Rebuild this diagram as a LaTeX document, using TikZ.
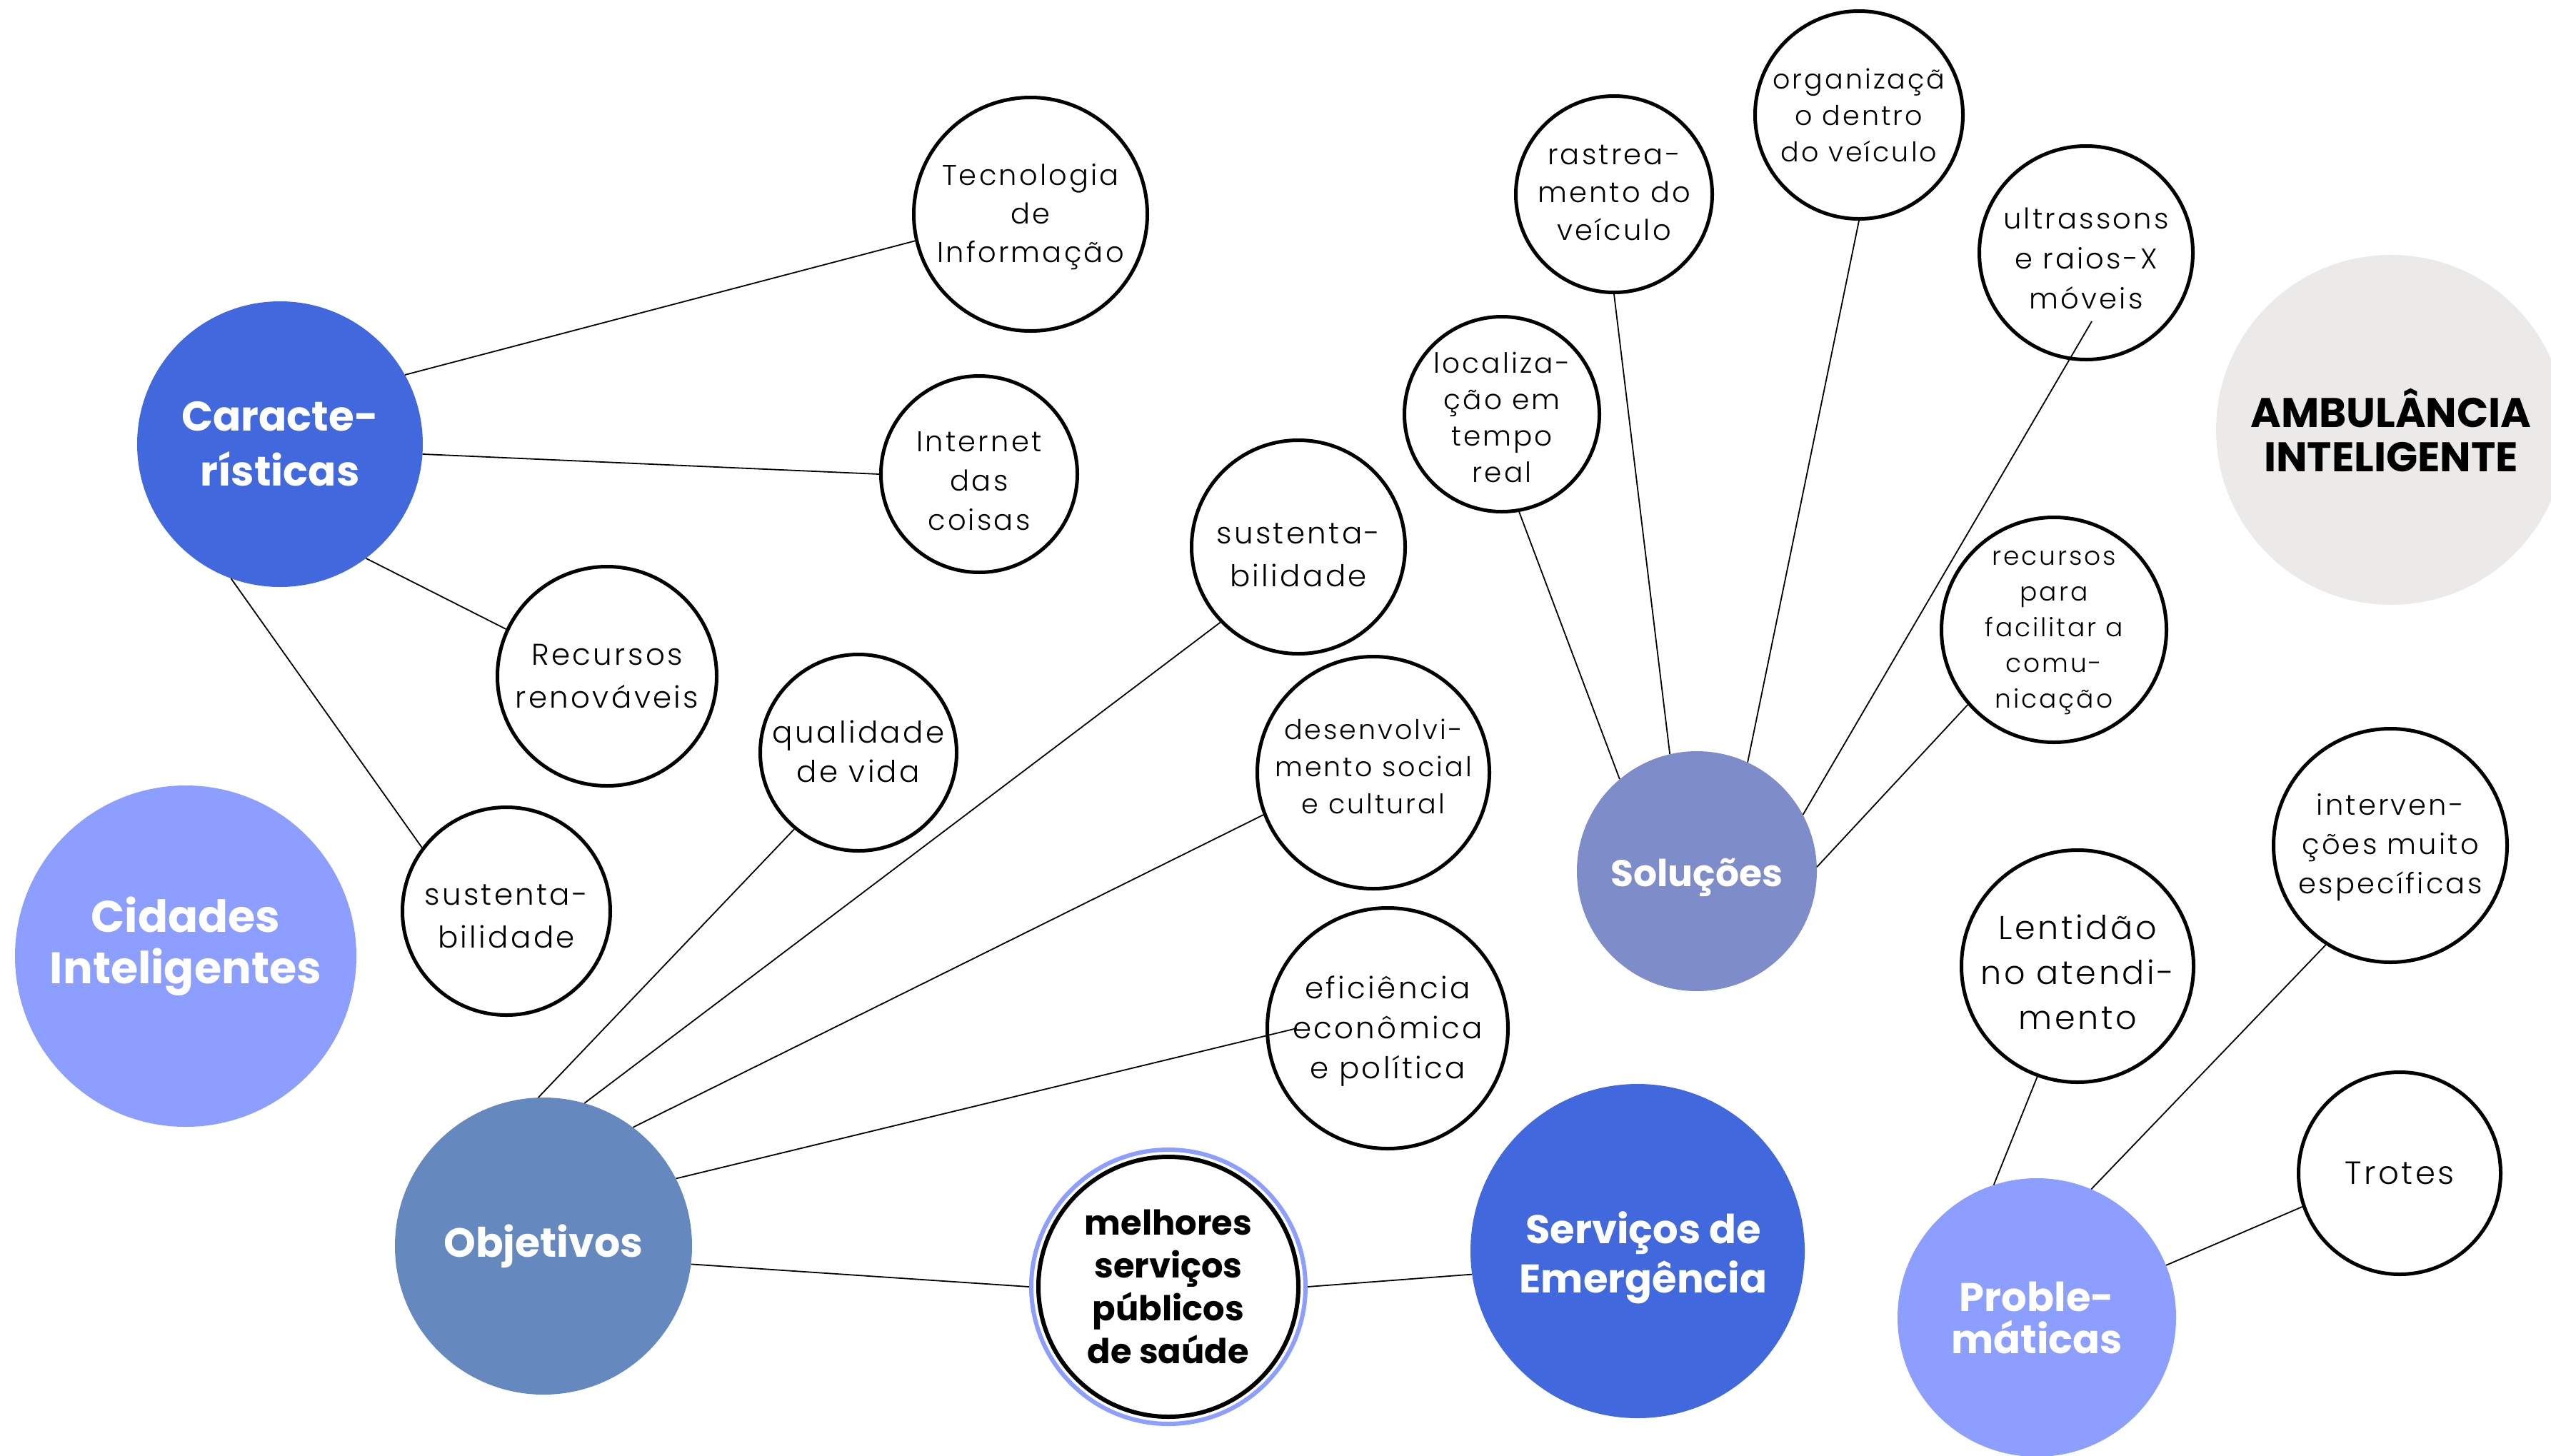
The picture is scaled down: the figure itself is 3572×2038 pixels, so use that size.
\documentclass[tikz,border=0pt]{standalone}
\usepackage{fontspec}
\newfontfamily\bodyf{Poppins}[UprightFont=* Light, LetterSpace=8]
\newfontfamily\headf{Poppins}
\newcommand\bodysz[2]{\bodyf\fontsize{#1}{#2}\selectfont}
\newcommand\headsz[2]{\headf\bfseries\fontsize{#1}{#2}\selectfont}
\definecolor{cblue}{HTML}{4168DC}
\definecolor{clight}{HTML}{8C9EFF}
\definecolor{cobj}{HTML}{6588BF}
\definecolor{csol}{HTML}{7E8CC9}
\definecolor{cgray}{HTML}{EBEAE9}
\tikzset{
  leaf/.style={circle, draw=black, line width=5pt, fill=white, inner sep=0pt},
  hub/.style={circle, inner sep=0pt},
  txt/.style={align=center, inner sep=0pt, text=black},
  wtxt/.style={align=center, inner sep=0pt, text=white},
  link/.style={draw=black, line width=1.8pt}
}
\begin{document}
\begin{tikzpicture}[x=1pt,y=-1pt]
\useasboundingbox (0,0) rectangle (3572,2038);
\clip (0,0) rectangle (3572,2038);
% hubs
\node[hub, fill=cblue, minimum size=400pt] (cara) at (392,622) {};
\node[hub, fill=clight, minimum size=478pt] (cid) at (260,1339) {};
\node[hub, fill=cobj, minimum size=416pt] (obj) at (761,1745) {};
\node[hub, fill=cblue, minimum size=468pt] (serv) at (2293,1752) {};
\node[hub, fill=csol, minimum size=336pt] (sol) at (2376,1220) {};
\node[hub, fill=clight, minimum size=390pt] (prob) at (2852,1845) {};
\node[hub, fill=cgray, minimum size=490pt] (amb) at (3348,602) {};
% leaves
\node[leaf, minimum size=327pt] (tec) at (1443,300) {};
\node[leaf, minimum size=275pt] (iot) at (1371,664) {};
\node[leaf, minimum size=307pt] (rec) at (850,947) {};
\node[leaf, minimum size=291pt] (sus1) at (709,1276) {};
\node[leaf, minimum size=275pt] (qual) at (1202,1054) {};
\node[leaf, minimum size=299pt] (sus2) at (1818,766) {};
\node[leaf, minimum size=325pt] (des) at (1923,1082) {};
\node[leaf, minimum size=337pt] (efi) at (1943,1440) {};
\node[circle, draw=clight, line width=6pt, fill=white, inner sep=0pt, minimum size=384pt] (melo) at (1636,1802) {};
\node[leaf, line width=6pt, minimum size=364pt] (mel) at (1636,1802) {};
\node[leaf, minimum size=273pt] (loc) at (2103,580) {};
\node[leaf, minimum size=275pt] (ras) at (2260,272) {};
\node[leaf, minimum size=291pt] (org) at (2603,161) {};
\node[leaf, minimum size=299pt] (ult) at (2921,354) {};
\node[leaf, minimum size=315pt] (rpf) at (2876,882) {};
\node[leaf, minimum size=325pt] (lent) at (2909,1353) {};
\node[leaf, minimum size=327pt] (inter) at (3347,1184) {};
\node[leaf, minimum size=283pt] (tro) at (3360,1643) {};
% connectors
\draw[link] (cara.29) -- (tec.193);
\draw[link] (cara.-4) -- (iot.180);
\draw[link] (cara.-53.5) -- (rec.155.6);
\draw[link] (cara.250) -- (sus1.143);
\draw[link] (obj.92.5) -- (qual.230);
\draw[link] (obj.74) -- (sus2.224.5);
\draw[link] (obj.53) -- (des.201);
\draw[link] (obj.27) -- ([xshift=44pt]efi.west);
\draw[link] (obj.-7.4) -- (melo.180);
\draw[link] (melo.0) -- (serv.188);
\draw[link] (sol.130) -- (loc.280);
\draw[link] (sol.103) -- (ras.270);
\draw[link] (sol.65) -- (org.270);
\draw[link] (sol.28) -- ([xshift=8pt,yshift=56pt]ult.south);
\draw[link] (sol.2.4) -- (rpf.221);
\draw[link] (prob.108.7) -- (lent.250.5);
\draw[link] (prob.67.6) -- (inter.237);
\draw[link] (prob.22.5) -- (tro.199);
% hub texts
\node[wtxt, font=\headsz{58}{77}] (carat) at (cara.center) {Caracte-\\rísticas};
\node[wtxt, font=\headsz{62}{72}] (cidt) at ([yshift=14pt]cid.center) {Cidades\\Inteligentes};
\node[wtxt, font=\headsz{57}{70}] (objt) at (obj.center) {Objetivos};
\node[wtxt, font=\headsz{56}{69}] (servt) at ([xshift=8pt,yshift=-9pt]serv.center) {Serviços de\\Emergência};
\node[wtxt, font=\headsz{52}{66}] (solt) at ([yshift=-9pt]sol.center) {Soluções};
\node[wtxt, font=\headsz{56}{59}] (probt) at (prob.center) {Proble-\\máticas};
\node[txt, font=\headsz{58}{62}] (ambt) at (amb.center) {AMBULÂNCIA\\INTELIGENTE};
% leaf texts
\node[txt, font=\bodysz{40}{54}] (tect) at ([yshift=-4pt]tec.center) {Tecnologia\\de\\Informação};
\node[txt, font=\bodysz{40}{55}] (iott) at ([yshift=-10pt]iot.center) {Internet\\das\\coisas};
\node[txt, font=\bodysz{42}{60}] (rect) at (rec.center) {Recursos\\renováveis};
\node[txt, font=\bodysz{42}{60}] (sus1t) at ([yshift=-7pt]sus1.center) {sustenta-\\bilidade};
\node[txt, font=\bodysz{42}{55}] (qualt) at ([yshift=2pt]qual.center) {qualidade\\de vida};
\node[txt, font=\bodysz{42}{60}] (sus2t) at ([yshift=-11pt]sus2.center) {sustenta-\\bilidade};
\node[txt, font=\bodysz{38}{52}] (dest) at ([yshift=9pt]des.center) {desenvolvi-\\mento social\\e cultural};
\node[txt, font=\bodysz{42}{56}] (efit) at ([yshift=-4pt]efi.center) {eficiência\\econômica\\e política};
\node[txt, font=\headsz{48}{60}] (melt) at (mel.center) {melhores\\serviços\\públicos\\de saúde};
\node[txt, font=\bodysz{39}{51}] (loct) at ([yshift=-4pt]loc.center) {localiza-\\ção em\\tempo\\real};
\node[txt, font=\bodysz{40}{53}] (rast) at ([yshift=2pt]ras.center) {rastrea-\\mento do\\veículo};
\node[txt, font=\bodysz{38}{51}] (orgt) at (org.center) {organizaçã\\o dentro\\do veículo};
\node[txt, font=\bodysz{40}{56}] (ultt) at ([yshift=-8pt]ult.center) {ultrassons\\e raios-X\\móveis};
\node[txt, font=\bodysz{36}{50}] (rpft) at ([yshift=-4pt]rpf.center) {recursos\\para\\facilitar a\\comu-\\nicação};
\node[txt, font=\bodysz{46}{63}] (lentt) at ([yshift=-8pt]lent.center) {Lentidão\\no atendi-\\mento};
\node[txt, font=\bodysz{40}{55}] (intert) at ([yshift=-3pt]inter.center) {interven-\\ções muito\\específicas};
\node[txt, font=\bodysz{45}{58}] (trot) at (tro.center) {Trotes};
\end{tikzpicture}
\end{document}
